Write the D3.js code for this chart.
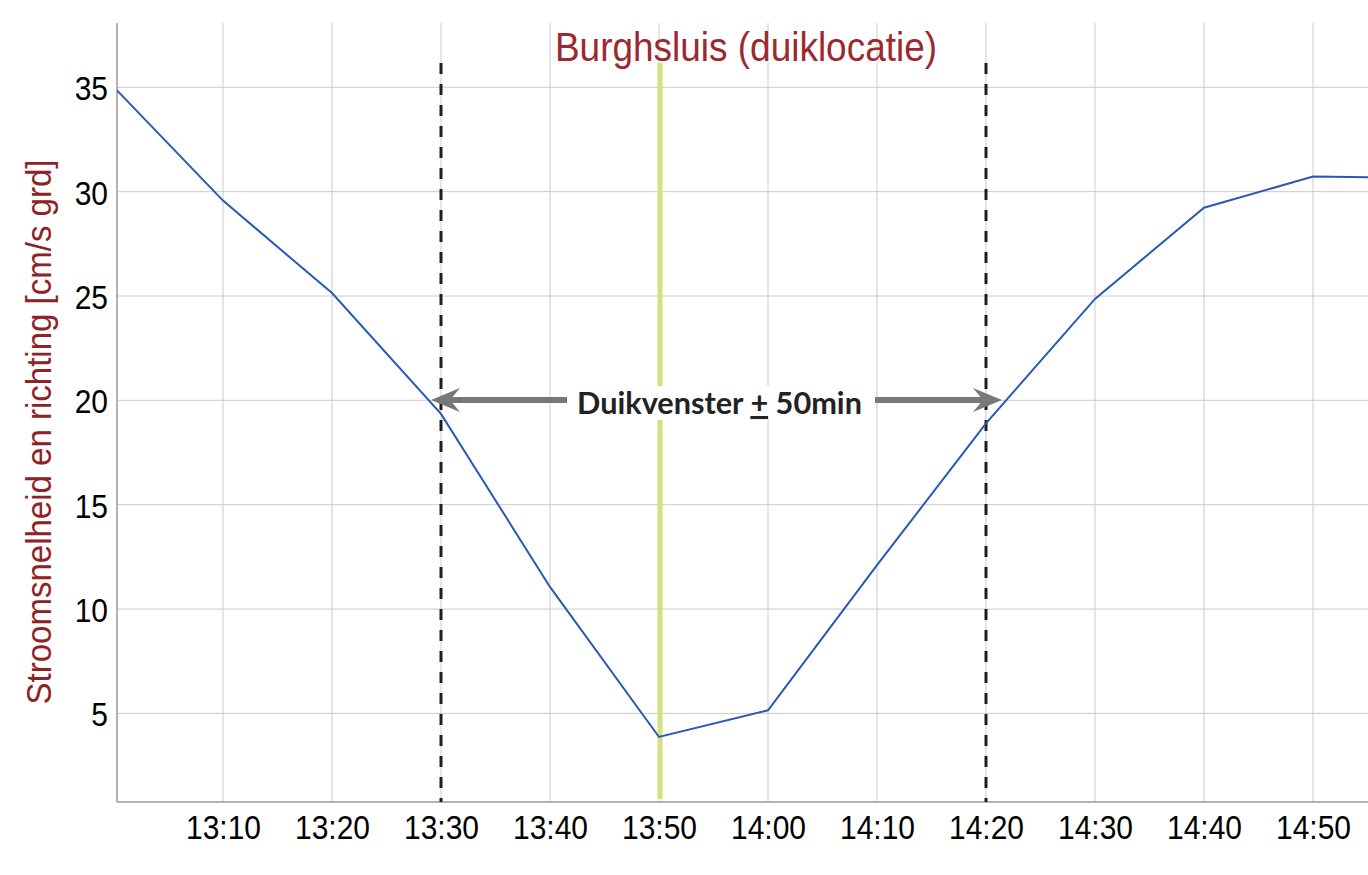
<!DOCTYPE html>
<html>
<head>
<meta charset="utf-8">
<script src="https://cdn.jsdelivr.net/npm/d3@7"></script>
<style>
  html, body { margin: 0; padding: 0; background: #fff; }
  svg { display: block; }
</style>
</head>
<body>
<svg id="chart" width="1368" height="875"></svg>
<script>
// ---- data ----
const times = ["13:00","13:10","13:20","13:30","13:40","13:50","14:00","14:10","14:20","14:30","14:40","14:50","15:00"];
const values = [35.0, 29.57, 25.14, 19.35, 11.06, 3.87, 5.15, 12.1, 18.9, 24.86, 29.23, 30.72, 30.66];
const xTickLabels = ["13:10","13:20","13:30","13:40","13:50","14:00","14:10","14:20","14:30","14:40","14:50"];
const yTickValues = [5, 10, 15, 20, 25, 30, 35];
const windowTimes = ["13:30", "14:20"];
const diveTime = "13:50";
const titleText = "Burghsluis (duiklocatie)";
const yLabelText = "Stroomsnelheid en richting [cm/s grd]";

// ---- layout ----
const parse = d3.utcParse("%H:%M");
const fmt = d3.utcFormat("%H:%M");
const plotLeft = 117, plotRight = 1368, plotTop = 23, plotBottom = 802;
const stretch = 1.09; // reference glyphs are a bit taller than Liberation Sans

const x = d3.scaleUtc().domain([parse("13:10"), parse("14:50")]).range([223, 1313]);
const y = d3.scaleLinear().domain([5, 35]).range([713.4, 87.3]);

const svg = d3.select("#chart");
const font = "'Liberation Sans', Arial, Helvetica, sans-serif";

svg.append("defs").append("clipPath").attr("id", "plotclip")
  .append("rect").attr("x", plotLeft).attr("y", 0).attr("width", plotRight - plotLeft).attr("height", plotBottom);

// grid
const grid = svg.append("g");
grid.selectAll("line.v").data(xTickLabels).join("line")
  .attr("x1", d => x(parse(d))).attr("x2", d => x(parse(d)))
  .attr("y1", plotTop).attr("y2", plotBottom)
  .attr("stroke", "#cbcbcb").attr("stroke-width", 1);
grid.selectAll("line.h").data(yTickValues).join("line")
  .attr("x1", plotLeft).attr("x2", plotRight)
  .attr("y1", d => y(d)).attr("y2", d => y(d))
  .attr("stroke", "#cbcbcb").attr("stroke-width", 1);

// axes via d3 axis (labels only, no tick marks)
const xAxis = d3.axisBottom(x).tickValues(xTickLabels.map(parse)).tickFormat(fmt).tickSize(0).tickPadding(0);
const gx = svg.append("g").attr("transform", `translate(0,${plotBottom})`).call(xAxis);
gx.select(".domain").remove();
gx.selectAll("text").attr("y", 0).attr("dy", 0)
  .attr("transform", `translate(0,37) scale(1,${stretch})`)
  .attr("font-family", font).attr("font-size", 30).attr("fill", "#000");

const yAxis = d3.axisLeft(y).tickValues(yTickValues).tickSize(0).tickPadding(0);
const gy = svg.append("g").attr("transform", `translate(${plotLeft},0)`).call(yAxis);
gy.select(".domain").remove();
gy.selectAll("text").attr("x", -9).attr("dy", "0.38em")
  .attr("transform", `scale(1,${stretch})`)
  .attr("font-family", font).attr("font-size", 30).attr("fill", "#000");

// axis lines
svg.append("line").attr("x1", plotLeft).attr("x2", plotLeft).attr("y1", plotTop).attr("y2", plotBottom)
  .attr("stroke", "#9a9a9a").attr("stroke-width", 1.5);
svg.append("line").attr("x1", plotLeft).attr("x2", plotRight).attr("y1", plotBottom).attr("y2", plotBottom)
  .attr("stroke", "#9a9a9a").attr("stroke-width", 1.5);

// green dive-time line
svg.append("line")
  .attr("x1", x(parse(diveTime)) + 1).attr("x2", x(parse(diveTime)) + 1)
  .attr("y1", 63).attr("y2", 799)
  .attr("stroke", "#d3e27d").attr("stroke-width", 5);

// dashed window lines
svg.selectAll("line.win").data(windowTimes).join("line")
  .attr("x1", d => x(parse(d))).attr("x2", d => x(parse(d)))
  .attr("y1", 63).attr("y2", plotBottom)
  .attr("stroke", "#1e1e1e").attr("stroke-width", 3)
  .attr("stroke-dasharray", "11,10");

// annotation background
const annY = 414;
const wl = x(parse(windowTimes[0])), wr = x(parse(windowTimes[1]));
svg.append("rect").attr("x", 567).attr("y", 386).attr("width", 875 - 567).attr("height", 34).attr("fill", "#fff");

// data line
const line = d3.line().x(d => x(d.t)).y(d => y(d.v));
const data = times.map((t, i) => ({ t: parse(t), v: values[i] }));
svg.append("path").datum(data)
  .attr("clip-path", "url(#plotclip)")
  .attr("d", line)
  .attr("fill", "none").attr("stroke", "#2b58b6").attr("stroke-width", 2);

// arrows
const arrowColor = "#787878";
const ay = 400;
function arrow(x0, tip, dir) {
  svg.append("line").attr("x1", x0).attr("x2", tip - dir * 18).attr("y1", ay).attr("y2", ay)
    .attr("stroke", arrowColor).attr("stroke-width", 6);
  svg.append("path")
    .attr("d", `M${tip},${ay} L${tip - dir * 29},${ay - 12} L${tip - dir * 19},${ay} L${tip - dir * 29},${ay + 12} Z`)
    .attr("fill", arrowColor);
}
arrow(567, wl - 10, -1);
arrow(875, wr + 16, 1);

const ann = svg.append("text")
  .attr("x", 719.5).attr("y", annY)
  .attr("text-anchor", "middle")
  .attr("font-family", "Lato, 'Open Sans', sans-serif")
  .attr("font-weight", "bold").attr("font-size", 31).attr("fill", "#222");
ann.append("tspan").text("Duikvenster ");
ann.append("tspan").attr("text-decoration", "underline").text("+");
ann.append("tspan").text(" 50min");
{
  const w = ann.node().getComputedTextLength();
  if (w > 0) ann.attr("font-size", 31 * 285 / w);
}

// title
const title = svg.append("text")
  .attr("x", 0).attr("y", 0)
  .attr("transform", `translate(746,61) scale(1,${stretch})`)
  .attr("text-anchor", "middle")
  .attr("font-family", font).attr("font-size", 38).attr("fill", "#9b2a2f")
  .text(titleText);
{
  const w = title.node().getComputedTextLength();
  if (w > 0) title.attr("font-size", 38 * 382 / w);
}

// y label
const yl = svg.append("text")
  .attr("transform", `translate(51,432) rotate(-90) scale(1,${stretch})`)
  .attr("text-anchor", "middle")
  .attr("font-family", font).attr("font-size", 33).attr("fill", "#8f2226")
  .text(yLabelText);
{
  const w = yl.node().getComputedTextLength();
  if (w > 0) yl.attr("font-size", 33 * 545 / w);
}
</script>
</body>
</html>
